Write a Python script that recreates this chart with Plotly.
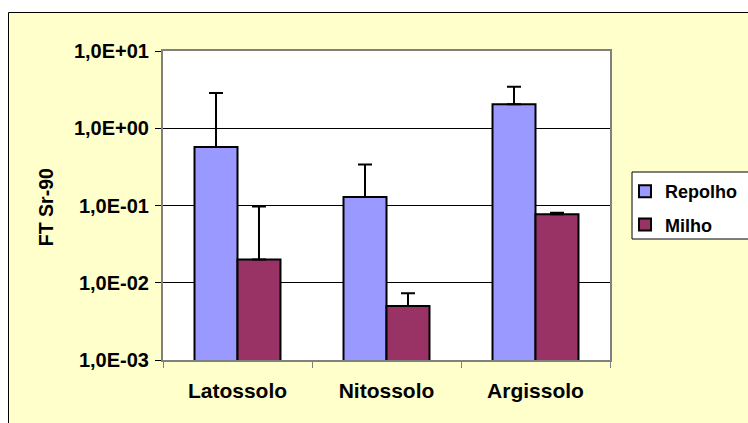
import plotly.graph_objects as go

# Soil types (x categories)
soils = ["Latossolo", "Nitossolo", "Argissolo"]

# Transfer factor Sr-90 per crop, with upper error
repolho = [0.57, 0.129, 2.05]
repolho_err = [2.3, 0.21, 1.4]
milho = [0.020, 0.0050, 0.077]
milho_err = [0.077, 0.0023, 0.0036]

# Log-axis ticks and their labels
y_tickvals = [0.001, 0.01, 0.1, 1, 10]
y_ticktext = ["1,0E-03", "1,0E-02", "1,0E-01", "1,0E+00", "1,0E+01"]

FONT = "Liberation Sans, Arial, sans-serif"
W, H = 748, 423
L, R, T, B = 163, 138, 51, 63
PW, PH = W - L - R, H - T - B


def px_x(px):
    return (px - L) / PW


def px_y(py):
    return (H - B - py) / PH


err_style = dict(type="data", symmetric=False,
                 color="black", thickness=2, width=7)

fig = go.Figure()
fig.add_trace(go.Bar(
    name="Repolho", x=soils, y=repolho, legendgroup="a",
    marker=dict(color="#9999FF", line=dict(color="black", width=2)),
    error_y=dict(array=repolho_err, **err_style),
))
fig.add_trace(go.Bar(
    name="Milho", x=soils, y=milho, legendgroup="b",
    marker=dict(color="#993366", line=dict(color="black", width=2)),
    error_y=dict(array=milho_err, **err_style),
))

shapes = [
    # white margin outside the chart frame
    dict(type="rect", xref="paper", yref="paper", layer="below",
         x0=px_x(-5), x1=px_x(8), y0=px_y(440), y1=px_y(-5),
         fillcolor="white", line=dict(width=0)),
    dict(type="rect", xref="paper", yref="paper", layer="below",
         x0=px_x(-5), x1=px_x(760), y0=px_y(12), y1=px_y(-5),
         fillcolor="white", line=dict(width=0)),
    # chart frame
    dict(type="rect", xref="paper", yref="paper", layer="below",
         x0=px_x(8.5), x1=px_x(770), y0=px_y(440), y1=px_y(12.5),
         fillcolor="rgba(0,0,0,0)", line=dict(color="black", width=1)),
    # legend box
    dict(type="rect", xref="paper", yref="paper", layer="below",
         x0=px_x(632), x1=px_x(770), y0=px_y(239), y1=px_y(172),
         fillcolor="white", line=dict(color="black", width=1)),
]

fig.update_layout(
    width=W, height=H,
    margin=dict(l=L, r=R, t=T, b=B, autoexpand=False),
    paper_bgcolor="#FFFFCC",
    plot_bgcolor="white",
    barmode="group",
    bargap=0.423,
    bargroupgap=0,
    showlegend=True,
    legend=dict(
        x=px_x(625), y=px_y(173), xanchor="left", yanchor="top",
        bgcolor="rgba(0,0,0,0)", borderwidth=0,
        font=dict(family=FONT, size=18, color="black", weight="bold"),
        tracegroupgap=7,
    ),
    shapes=shapes,
    annotations=[dict(
        text="FT Sr-90", xref="paper", yref="paper",
        x=px_x(46.7), y=px_y(207.5), xanchor="center", yanchor="middle",
        textangle=-90, showarrow=False,
        font=dict(family=FONT, size=19.5, color="black", weight="bold"),
    )],
)

fig.update_xaxes(
    type="category",
    showline=True, mirror=True, linecolor="#808080", linewidth=2,
    ticks="outside", tickson="boundaries", ticklen=6, tickcolor="#808080",
    tickwidth=1, ticklabelstandoff=11,
    tickfont=dict(family=FONT, size=21, color="black", weight="bold"),
    showgrid=False,
)
fig.update_yaxes(
    type="log", range=[-3, 1],
    tickvals=y_tickvals, ticktext=y_ticktext,
    showline=True, mirror=True, linecolor="#808080", linewidth=2,
    ticks="outside", ticklen=6, tickcolor="black", tickwidth=1,
    ticklabelstandoff=2,
    showgrid=True, gridcolor="black", gridwidth=1,
    tickfont=dict(family=FONT, size=20, color="black", weight="bold"),
    zeroline=False,
)

fig.write_html("out.html")
